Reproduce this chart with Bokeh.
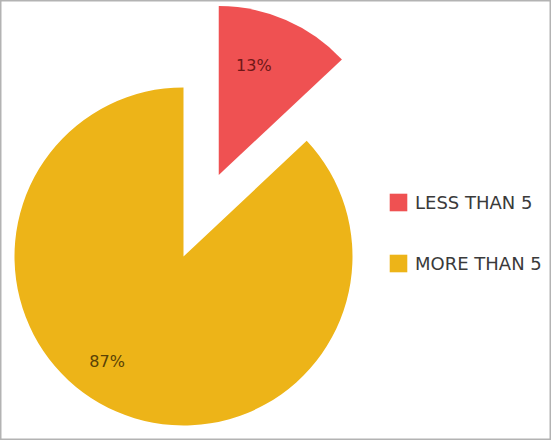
import math
from bokeh.plotting import figure
from bokeh.models import ColumnDataSource, Range1d, Legend, LegendItem
from bokeh.core.properties import value
from bokeh.embed import file_html
from bokeh.resources import INLINE

# ---- data ----
categories = ["LESS THAN 5", "MORE THAN 5"]
values = [13, 87]
pct_labels = ["13%", "87%"]
colors = ["#ef5152", "#edb418"]
label_colors = ["#6e1717", "#5a4206"]

# ---- layout constants (pixel-like data units) ----
W, H = 551, 440
CX, CY, R = 183, 184, 169
EXPLODE = [0.525, 0.0]
LABEL_ANGLE_FRAC = [0.38, 0.54]
LABEL_RADIUS = [0.68, 0.77]

total = float(sum(values))
xs, ys, starts, ends, lx, ly = [], [], [], [], [], []
cum = 0.0
for i, v in enumerate(values):
    cw0 = 360.0 * cum / total
    cum += v
    cw1 = 360.0 * cum / total
    cw_mid = (cw0 + cw1) / 2
    mid = math.radians(90 - cw_mid)
    cx = CX + EXPLODE[i] * R * math.cos(mid)
    cy = CY + EXPLODE[i] * R * math.sin(mid)
    xs.append(cx)
    ys.append(cy)
    starts.append(math.radians(90 - cw1))
    ends.append(math.radians(90 - cw0))
    la = math.radians(90 - (cw0 + LABEL_ANGLE_FRAC[i] * (cw1 - cw0)))
    lx.append(cx + LABEL_RADIUS[i] * R * math.cos(la))
    ly.append(cy + LABEL_RADIUS[i] * R * math.sin(la))

src = ColumnDataSource(dict(x=xs, y=ys, start=starts, end=ends, color=colors,
                            cat=categories, lx=lx, ly=ly, txt=pct_labels,
                            tcol=label_colors))

p = figure(width=W, height=H, output_backend="svg", toolbar_location=None,
           x_range=Range1d(0, W), y_range=Range1d(0, H), min_border=0,
           tools="")
p.axis.visible = False
p.grid.visible = False
p.outline_line_color = "#b3b3b3"
p.outline_line_width = 2
p.background_fill_color = "white"
p.border_fill_color = "white"

w = p.wedge(x="x", y="y", radius=R, start_angle="start", end_angle="end",
            fill_color="color", line_color=None, source=src)

p.text(x="lx", y="ly", text="txt", text_color="tcol", source=src,
       text_font=value("DejaVu Sans"), text_font_size="16px",
       text_align="center", text_baseline="middle")

legend = Legend(items=[LegendItem(label=c, renderers=[w], index=i)
                       for i, c in enumerate(categories)],
                location=(387, 166), padding=0, margin=0, spacing=39,
                glyph_width=22, glyph_height=22, label_height=22,
                label_standoff=6, border_line_color=None,
                background_fill_alpha=0,
                label_text_font="DejaVu Sans", label_text_font_size="18px",
                label_text_color="#3a3a3a")
p.add_layout(legend)

open("out.html", "w").write(file_html(p, INLINE))
